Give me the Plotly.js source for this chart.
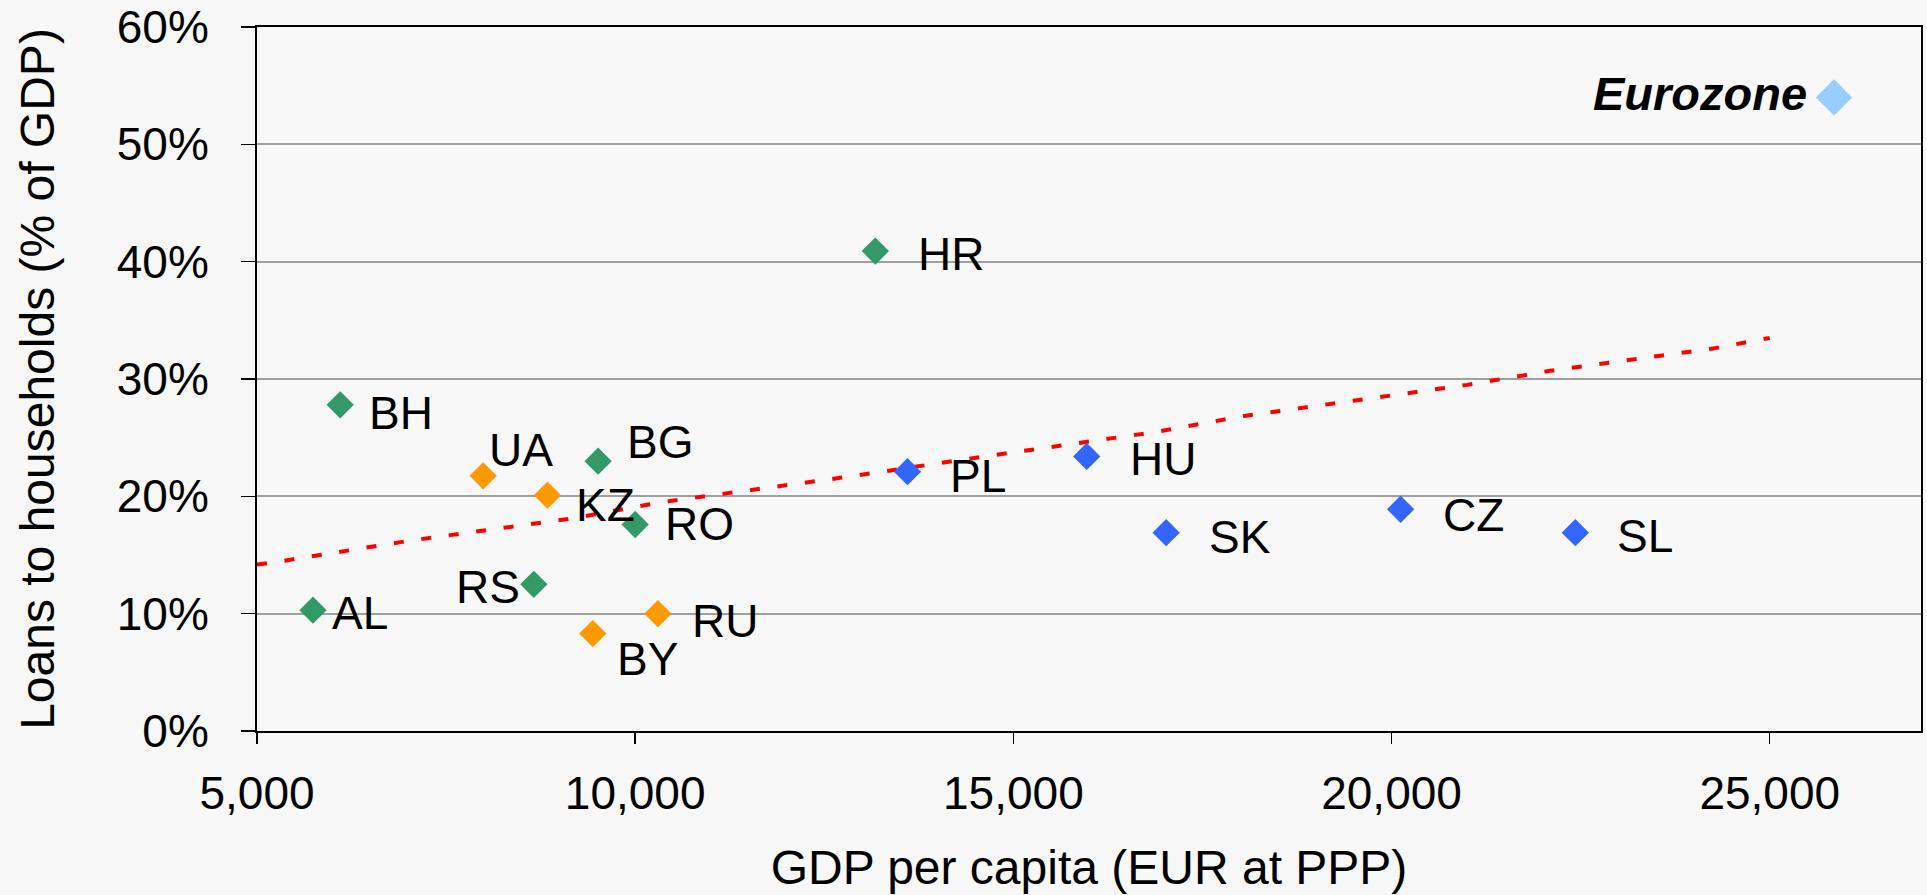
<!DOCTYPE html>
<html>
<head>
<meta charset="utf-8">
<script src="https://cdn.plot.ly/plotly-3.0.1.min.js"></script>
<style>
  html, body { margin: 0; padding: 0; background: #f8f8f8; }
  #chart { width: 1927px; height: 895px; }
</style>
</head>
<body>
<div id="chart"></div>
<script>
// ---- Data ----
// GDP per capita (EUR at PPP) and loans to households (% of GDP)
const seeCountries = ["AL", "BH", "BG", "RO", "RS", "HR"];
const seeGdp       = [5740, 6100, 9510, 10000, 8660, 13175];
const seeLoans     = [10.3, 27.8, 23.0, 17.6, 12.5, 40.9];

const cisCountries = ["UA", "KZ", "BY", "RU"];
const cisGdp       = [7990, 8840, 9440, 10300];
const cisLoans     = [21.75, 20.1, 8.3, 10.0];

const ceCountries  = ["PL", "HU", "SK", "CZ", "SL"];
const ceGdp        = [13600, 15970, 17020, 20120, 22430];
const ceLoans      = [22.1, 23.4, 16.9, 18.9, 16.9];

const ezLabel      = ["Eurozone"];
const ezGdp        = [25850];
const ezLoans      = [54.0];

// Trend line vertices
const trendGdp   = [5000, 5200, 7000, 9200, 10350, 12850, 14300, 16900, 18050, 21000, 22100, 24250, 25000];
const trendLoans = [14.2, 14.35, 16.2, 18.15, 19.5, 21.7, 23.1, 25.5, 26.85, 29.5, 30.7, 32.6, 33.5];

// Axis ticks
const xTicks = [5000, 10000, 15000, 20000, 25000];
const yTicks = [0, 10, 20, 30, 40, 50, 60];

// ---- Styling: label offsets (pixels, relative to marker) ----
const labelOffsets = {
  AL: [47, 3], BH: [61, 8], BG: [62, -19], RO: [64, 0], RS: [-46, 3], HR: [76, 3],
  UA: [38, -26], KZ: [58, 10], BY: [55, 25], RU: [67, 7],
  PL: [71, 4], HU: [76, 3], SK: [74, 4], CZ: [73, 6], SL: [70, 3],
  Eurozone: [-134, -4]
};

const FONT = 'Arial, "Liberation Sans", sans-serif';

function markerTrace(name, xs, ys, color, size) {
  return {
    type: 'scatter', mode: 'markers', name: name,
    x: xs, y: ys,
    marker: { symbol: 'diamond', size: size, color: color, line: { width: 0 } },
    showlegend: false, hoverinfo: 'x+y'
  };
}

const traces = [
  {
    type: 'scatter', mode: 'lines', name: 'Trend',
    x: trendGdp, y: trendLoans,
    line: { color: '#ff0000', width: 4, dash: '10px,17.7px' },
    showlegend: false, hoverinfo: 'skip'
  },
  markerTrace('SEE', seeGdp, seeLoans, '#339966', 21),
  markerTrace('CIS', cisGdp, cisLoans, '#ff9900', 21),
  markerTrace('CE', ceGdp, ceLoans, '#3366ff', 21),
  markerTrace('Eurozone', ezGdp, ezLoans, '#99ccff', 28)
];

const annotations = [];
function addLabels(labels, xs, ys, bold) {
  labels.forEach((lab, i) => {
    const off = labelOffsets[lab] || [40, 0];
    annotations.push({
      x: xs[i], y: ys[i], xref: 'x', yref: 'y',
      text: bold ? '<b><i>' + lab + '</i></b>' : lab,
      showarrow: false, xanchor: 'center', yanchor: 'middle',
      xshift: off[0], yshift: -off[1],
      font: { family: FONT, size: bold ? 47 : 46, color: '#000000' }
    });
  });
}
addLabels(seeCountries, seeGdp, seeLoans, false);
addLabels(cisCountries, cisGdp, cisLoans, false);
addLabels(ceCountries, ceGdp, ceLoans, false);
addLabels(ezLabel, ezGdp, ezLoans, true);

const layout = {
  width: 1927, height: 895,
  margin: { l: 257, r: 6, t: 27, b: 164, pad: 0 },
  paper_bgcolor: '#f8f8f8', plot_bgcolor: '#f8f8f8',
  font: { family: FONT, size: 46, color: '#000000' },
  showlegend: false,
  xaxis: {
    range: [5000, 27000],
    tickmode: 'array', tickvals: xTicks,
    ticktext: xTicks.map(v => v.toLocaleString('en-US')),
    showgrid: false, zeroline: false,
    showline: true, linecolor: '#000000', linewidth: 2, mirror: true,
    ticks: 'outside', ticklen: 11, tickwidth: 1.5, tickcolor: '#000000',
    tickfont: { family: FONT, size: 46, color: '#000000' },
    ticklabelstandoff: 10,
    ticklabeloverflow: 'allow',
    title: { text: 'GDP per capita (EUR at PPP)', font: { family: FONT, size: 48, color: '#000000' }, standoff: 32 }
  },
  yaxis: {
    range: [0, 60],
    tickmode: 'array', tickvals: yTicks,
    ticktext: yTicks.map(v => v + '%'),
    showgrid: true, gridcolor: '#a0a0a0', gridwidth: 2,
    zeroline: false,
    showline: true, linecolor: '#000000', linewidth: 2, mirror: true,
    ticks: 'outside', ticklen: 14, tickwidth: 1.5, tickcolor: '#000000',
    tickfont: { family: FONT, size: 46, color: '#000000' },
    ticklabelstandoff: 23,
    ticklabeloverflow: 'allow',
    title: { text: 'Loans to households (% of GDP)', font: { family: FONT, size: 48, color: '#000000' }, standoff: 47 }
  },
  annotations: annotations
};

Plotly.newPlot('chart', traces, layout, { displayModeBar: false, staticPlot: true });
</script>
</body>
</html>
